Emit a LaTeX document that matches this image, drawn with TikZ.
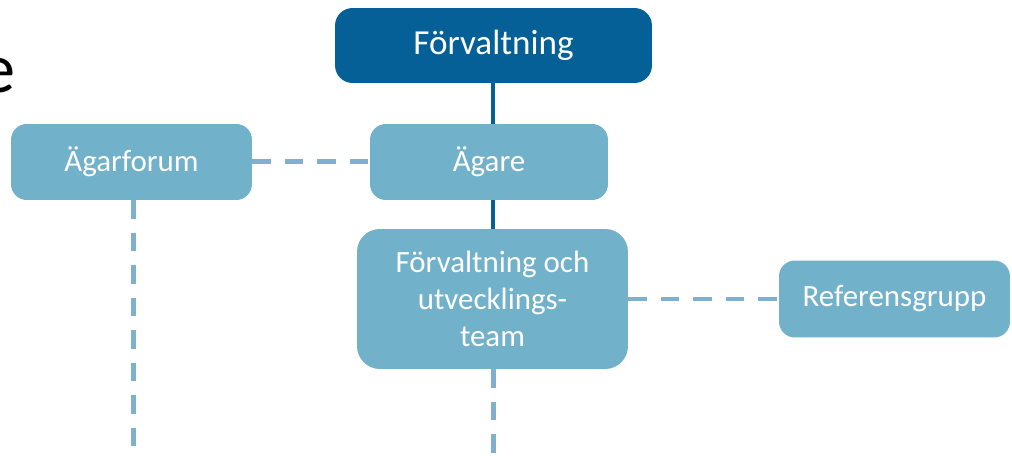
\documentclass[tikz,border=0pt]{standalone}
\usepackage{fontspec}
\setmainfont{Carlito}
\usepackage{tikz}
\usetikzlibrary{positioning}

\definecolor{darkblue}{RGB}{4,96,151}
\definecolor{lightblue}{RGB}{113,177,202}
\definecolor{dashblue}{RGB}{127,176,206}

\tikzset{
  topbox/.style={rectangle,rounded corners=10pt,fill=darkblue,text=white,
    minimum width=6.34cm,minimum height=1.5cm,font=\fontsize{20}{24}\selectfont},
  unitbox/.style={rectangle,rounded corners=9pt,fill=lightblue,text=white,
    minimum height=1.52cm,font=\fontsize{17.6}{21}\selectfont},
  solidlink/.style={draw=darkblue,line width=0.08cm},
  dashlink/.style={draw=dashblue,line width=0.1cm,dash pattern=on 0.37cm off 0.28cm}
}

\begin{document}
\begin{tikzpicture}[x=0.02cm,y=-0.02cm]
    \clip (0,0) rectangle (1012,456);
    \fill[white] (0,0) rectangle (1012,456);

    % title fragment
    \node[anchor=base east,inner sep=0pt,font=\fontsize{40}{48}\selectfont] (title) at (16,93) {e};

    \node[topbox] (forv) at (493.5,45.5) {Förvaltning};
    \node[unitbox,minimum width=4.82cm] (agarforum) at (131.5,162) {Ägarforum};
    \node[unitbox,minimum width=4.76cm] (agare) at (489,162) {Ägare};
    \node[unitbox,minimum width=5.42cm,minimum height=2.8cm,rounded corners=13pt,
      align=center] (team) at (492.5,299) {Förvaltning och\\utvecklings-\\team};
    \node[unitbox,minimum width=4.62cm,minimum height=1.54cm] (ref) at (894.5,299) {Referensgrupp};

    \coordinate (agarend) at (133,456);
    \coordinate (teamend) at (493,456);

    \draw[solidlink] (forv.south -| 493,0) -- (agare.north -| 493,0);
    \draw[solidlink] (agare.south -| 493,0) -- (team.north -| 493,0);
    \draw[dashlink] (agarforum.east) -- (agare.west);
    \draw[dashlink] (team.east) -- (ref.west);
    \draw[dashlink] (agarforum.south -| agarend) -- (agarend);
    \draw[dashlink] (team.south -| teamend) -- (teamend);
\end{tikzpicture}
\end{document}
